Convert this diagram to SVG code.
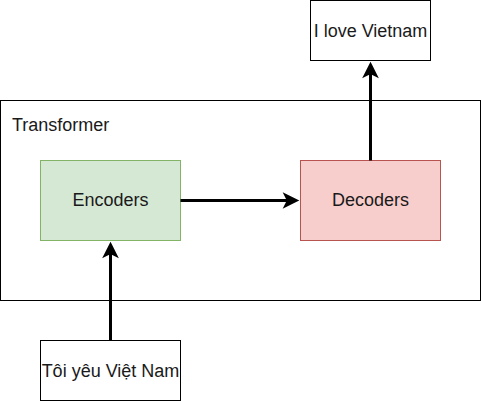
<svg xmlns="http://www.w3.org/2000/svg" width="481" height="401" viewBox="0 0 481 401">
<style>
text{font-family:"Liberation Sans",Arial,Helvetica,sans-serif;font-size:18px;fill:#1a1a1a}
.box{fill:#fff;stroke:#000;stroke-width:1}
.conn{stroke:#000;stroke-width:3;fill:none}
.head{fill:#000;stroke:#000;stroke-width:3;stroke-linejoin:miter}
</style>
<rect width="481" height="401" fill="#fff"/>
<g id="transformer">
<rect class="box" x="0.5" y="100.5" width="480" height="200"/>
<text x="12" y="131">Transformer</text>
</g>
<g id="encoders">
<rect x="40.5" y="160.5" width="140" height="80" fill="#d5e8d4" stroke="#82b366"/>
<text x="110.5" y="206" text-anchor="middle">Encoders</text>
</g>
<g id="decoders">
<rect x="300.5" y="160.5" width="140" height="80" fill="#f8cecc" stroke="#b85450"/>
<text x="370.5" y="206" text-anchor="middle">Decoders</text>
</g>
<g id="output">
<rect class="box" x="310.5" y="0.5" width="120" height="60"/>
<text x="370.5" y="36.5" text-anchor="middle">I love Vietnam</text>
</g>
<g id="input">
<rect class="box" x="40.5" y="340.5" width="140" height="60"/>
<text x="110.5" y="376.5" text-anchor="middle">Tôi yêu Việt Nam</text>
</g>
<g id="connectors">
<path class="conn" d="M180.5,200.5 H290"/>
<path class="head" d="M296,200.5 L286,205.5 L288.5,200.5 L286,195.5 Z"/>
<path class="conn" d="M370.5,160.5 V71"/>
<path class="head" d="M370.5,65 L375.5,75 L370.5,72.5 L365.5,75 Z"/>
<path class="conn" d="M110.5,340.5 V251"/>
<path class="head" d="M110.5,245 L115.5,255 L110.5,252.5 L105.5,255 Z"/>
</g>
</svg>
